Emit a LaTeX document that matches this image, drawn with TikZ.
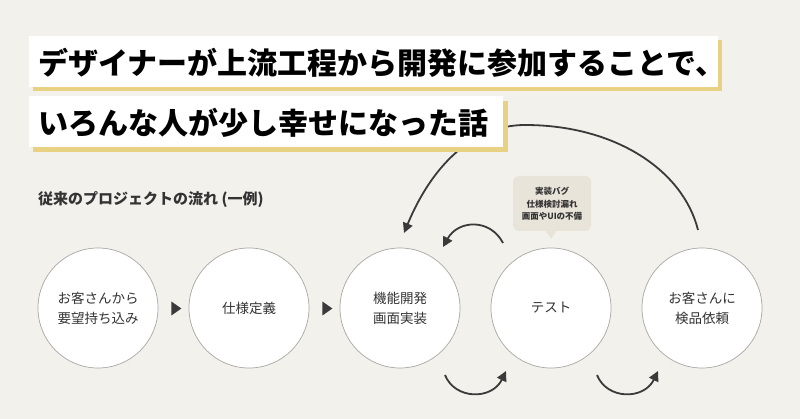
\documentclass[tikz,border=0pt]{standalone}
\usepackage{fontspec}
\setmainfont{Noto Sans CJK JP}
\usetikzlibrary{arrows.meta,shapes.geometric}
\definecolor{bgc}{HTML}{F3F1EC}
\definecolor{ylw}{HTML}{E9D183}
\definecolor{ink}{HTML}{333333}
\definecolor{arr}{HTML}{3A3A3A}
\definecolor{ring}{HTML}{A9A7A3}
\definecolor{bub}{HTML}{E9E4DA}
\tikzset{
  stage/.style={circle, minimum size=120pt, inner sep=0pt, fill=white, draw=ring, line width=0.7pt,
    align=center, text=ink, font=\fontsize{13.5}{20}\selectfont},
  tri/.style={isosceles triangle, isosceles triangle apex angle=70, fill=arr, inner sep=0pt,
    minimum height=10pt, minimum width=11pt},
  flow/.style={draw=arr, line width=1.8pt, -{Triangle[length=10pt,width=10pt]}},
  titletext/.style={anchor=base west, inner sep=0pt, text=black, font=\fontsize{30}{30}\selectfont\bfseries},
}
\begin{document}
\begin{tikzpicture}[x=1pt,y=-1pt]
\fill[bgc] (0,0) rectangle (800,419);
\useasboundingbox (0,0) rectangle (800,419);
% stages
\node[stage] (c1) at (98,308) {お客さんから\\要望持ち込み};
\node[stage] (c2) at (249,308) {仕様定義};
\node[stage] (c3) at (400,308) {機能開発\\画面実装};
\node[stage] (c4) at (551,308) {テスト};
\node[stage] (c5) at (702,308) {お客さんに\\検品依頼};
\node[tri] (t1) at (175,308.5) {};
\node[tri] (t2) at (326,308.5) {};
% helper coordinates
\coordinate (b1s) at (445,375);
\coordinate (b1e) at (506,371);
\coordinate (b2s) at (597,375);
\coordinate (b2e) at (658,371);
\coordinate (rs) at (503,243);
\coordinate (re) at (443,247);
\coordinate (as) at (698,230);
\coordinate (ap) at (525,125);
\coordinate (ae) at (404,233);
% big return arc
\draw[flow] (as) .. controls (683,170) and (615,125) .. (ap) .. controls (470,125) and (430,170) .. (ae);
% small return arc
\draw[flow] (rs) .. controls (490,218) and (458,220) .. (re);
% forward arcs
\draw[flow] (b1s) .. controls (455,400) and (492,400) .. (b1e);
\draw[flow] (b2s) .. controls (607,400) and (644,400) .. (b2e);
% bubble
\fill[bub, rounded corners=6pt] (513,176) rectangle (591,231);
\fill[bub] (545,230) -- (557,230) -- (551,239) -- cycle;
\node[align=center, text=ink, font=\fontsize{8.5}{12.5}\selectfont\bfseries] (bubtext) at (552,204) {実装バグ\\仕様検討漏れ\\画面やUIの不備};
% title boxes
\fill[ylw] (33,40) rectangle (722,91);
\fill[white] (29,36) rectangle (718,87);
\fill[ylw] (33,101) rectangle (508,152);
\fill[white] (29,96) rectangle (503,147);
\node[titletext] (title1) at (38,75) {デザイナーが上流工程から開発に参加することで、};
\node[titletext] (title2) at (38,135) {いろんな人が少し幸せになった話};
\node[anchor=base west, inner sep=0pt, text=ink, font=\fontsize{15}{15}\selectfont\bfseries] (sub) at (38,205) {従来のプロジェクトの流れ (一例)};
\end{tikzpicture}
\end{document}
